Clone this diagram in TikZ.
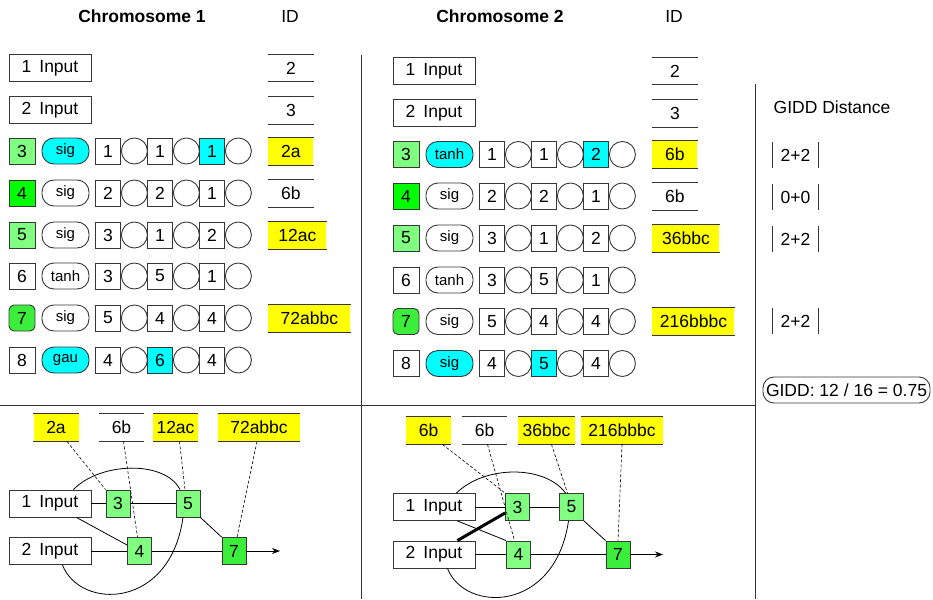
\documentclass[tikz,border=0pt]{standalone}
\usepackage{fontspec}
\setmainfont{Liberation Sans}
\usetikzlibrary{positioning,arrows.meta}
\definecolor{lgreen}{RGB}{128,255,128}
\definecolor{bgreen}{RGB}{0,255,0}
\definecolor{mgreen}{RGB}{60,238,60}
\definecolor{hlcyan}{RGB}{0,255,255}
\definecolor{idyellow}{RGB}{255,255,0}
\definecolor{edgegray}{RGB}{55,55,55}

\tikzset{
  every node/.append style={line width=0.9pt},
  numbox/.style={draw=edgegray, minimum width=26pt, minimum height=26pt, inner sep=0pt},
  actbox/.style={draw=edgegray, rounded corners=12pt, minimum width=47pt, minimum height=26pt,
    inner sep=0pt, font=\fontsize{15}{18}\selectfont},
  wbox/.style={draw=edgegray, minimum width=25pt, minimum height=26pt, inner sep=0pt},
  gate/.style={draw=edgegray, circle, minimum size=26pt, inner sep=0pt},
  hl/.style={fill=hlcyan},
  nohl/.style={},
  inbox/.style={draw=edgegray, minimum width=82pt, minimum height=27pt, inner sep=0pt},
  gnode/.style={draw=edgegray, fill=lgreen, minimum width=24pt, minimum height=27pt, inner sep=0pt},
  idline/.style={draw=edgegray, line width=0.9pt},
  idbox/.style={minimum width=45pt, minimum height=27pt, inner sep=0pt,
    append after command={(\tikzlastnode.north west) edge[idline] (\tikzlastnode.north east)
      (\tikzlastnode.south west) edge[idline] (\tikzlastnode.south east)}},
  barline/.style={draw=edgegray, line width=0.9pt},
  absval/.style={minimum width=45pt, minimum height=25pt, inner sep=0pt,
    append after command={(\tikzlastnode.north west) edge[barline] (\tikzlastnode.south west)
      (\tikzlastnode.north east) edge[barline] (\tikzlastnode.south east)}},
  link/.style={draw=black, line width=0.8pt},
  dlink/.style={draw=black, densely dashed, line width=0.6pt},
  sep/.style={draw=black!80, line width=0.9pt},
}

% one gene row: prefix, x offset, y, number, number style, activation, activation style, inputs
\newcommand{\gene}[8]{%
  \node[numbox,#5] (#1n) at (#2+22,#3) {#4};
  \node[actbox,#7] (#1a) at (#2+65.5,#3) {#6};
  \foreach \w/\s [count=\k] in {#8} {
    \node[wbox,\s] (#1w\k) at (#2+56+52*\k,#3) {\w};
    \node[gate,right=0pt of #1w\k] (#1c\k) {};
  }%
}

\begin{document}
\begin{tikzpicture}[x=1pt, y=-1pt, >={Stealth[length=8pt,width=6pt]}, font=\fontsize{17.5}{20}\selectfont]
  \useasboundingbox (0,0) rectangle (933,599);

  % separators
  \draw[sep] (361,55) -- (361,599);
  \draw[sep] (0,405) -- (755,405);
  \draw[sep] (755,84) -- (755,599);

  % headers
  \node[font=\fontsize{17.5}{20}\selectfont\bfseries] (title1) at (142,16) {Chromosome 1};
  \node (idhead1) at (290,16) {ID};
  \node[font=\fontsize{17.5}{20}\selectfont\bfseries] (title2) at (500,16) {Chromosome 2};
  \node (idhead2) at (674,16) {ID};

  % chromosome 1
  \node[inbox] (r1in1) at (50,68) {1\hspace{8pt}Input};
  \node[inbox] (r1in2) at (50,110) {2\hspace{8pt}Input};
  \gene{r1g3}{0}{151}{3}{fill=lgreen}{sig}{hl}{1/nohl,1/nohl,1/hl}
  \gene{r1g4}{0}{193}{4}{fill=bgreen}{sig}{}{2/nohl,2/nohl,1/nohl}
  \gene{r1g5}{0}{235}{5}{fill=lgreen}{sig}{}{3/nohl,1/nohl,2/nohl}
  \gene{r1g6}{0}{276}{6}{}{tanh}{}{3/nohl,5/nohl,1/nohl}
  \gene{r1g7}{0}{318}{7}{fill=mgreen,rounded corners=5pt}{sig}{}{5/nohl,4/nohl,4/nohl}
  \gene{r1g8}{0}{360}{8}{}{gau}{hl}{4/nohl,6/hl,4/nohl}

  \node[idbox,anchor=west] (r1id1) at (268,68) {2};
  \node[idbox,anchor=west] (r1id2) at (268,110) {3};
  \node[idbox,anchor=west,fill=idyellow] (r1id3) at (268,151) {2a};
  \node[idbox,anchor=west] (r1id4) at (268,193) {6b};
  \node[idbox,anchor=west,fill=idyellow,minimum width=58pt] (r1id5) at (268,235) {12ac};
  \node[idbox,anchor=west,fill=idyellow,minimum width=82pt] (r1id7) at (268,318) {72abbc};

  % chromosome 2
  \node[inbox] (r2in1) at (434,71) {1\hspace{8pt}Input};
  \node[inbox] (r2in2) at (434,113) {2\hspace{8pt}Input};
  \gene{r2g3}{384}{154.5}{3}{fill=lgreen}{tanh}{hl}{1/nohl,1/nohl,2/hl}
  \gene{r2g4}{384}{196}{4}{fill=bgreen}{sig}{}{2/nohl,2/nohl,1/nohl}
  \gene{r2g5}{384}{238}{5}{fill=lgreen}{sig}{}{3/nohl,1/nohl,2/nohl}
  \gene{r2g6}{384}{280}{6}{}{tanh}{}{3/nohl,5/nohl,1/nohl}
  \gene{r2g7}{384}{321.5}{7}{fill=mgreen,rounded corners=5pt}{sig}{}{5/nohl,4/nohl,4/nohl}
  \gene{r2g8}{384}{363.5}{8}{}{sig}{hl}{4/nohl,5/hl,4/nohl}

  \node[idbox,anchor=west] (r2id1) at (652,71) {2};
  \node[idbox,anchor=west] (r2id2) at (652,113) {3};
  \node[idbox,anchor=west,fill=idyellow] (r2id3) at (652,154.5) {6b};
  \node[idbox,anchor=west] (r2id4) at (652,196) {6b};
  \node[idbox,anchor=west,fill=idyellow,minimum width=67pt] (r2id5) at (652,238) {36bbc};
  \node[idbox,anchor=west,fill=idyellow,minimum width=82pt] (r2id7) at (652,321.5) {216bbbc};

  % distance column
  \node (gidd) at (832,107) {GIDD Distance};
  \node[absval] (d3) at (795.5,155) {2+2};
  \node[absval] (d4) at (795.5,197) {0+0};
  \node[absval] (d5) at (795.5,239) {2+2};
  \node[absval] (d7) at (795.5,321) {2+2};
  \node[draw=edgegray, rounded corners=11pt, minimum height=26pt, inner xsep=3pt, inner ysep=1pt] (total) at (846.5,390)
    {GIDD: 12 / 16 = 0.75};

  % network 1
  \node[idbox,fill=idyellow] (n1l3) at (56,427.5) {2a};
  \node[idbox] (n1l4) at (121.5,427.5) {6b};
  \node[idbox,fill=idyellow] (n1l5) at (175.5,427.5) {12ac};
  \node[idbox,fill=idyellow,minimum width=82pt] (n1l7) at (259,427.5) {72abbc};
  \node[inbox] (n1in1) at (50,503.5) {1\hspace{8pt}Input};
  \node[inbox] (n1in2) at (50,551) {2\hspace{8pt}Input};
  \node[gnode] (n1g3) at (118,503.5) {3};
  \node[gnode] (n1g5) at (188,503.5) {5};
  \node[gnode] (n1g4) at (139.5,551) {4};
  \node[gnode,fill=mgreen] (n1g7) at (234,551) {7};
  \coordinate (n1out) at (280,551);
  \draw[link] (n1in1) -- (n1g3);
  \draw[link] (n1g3) -- (n1g5);
  \draw[link] ([xshift=-15pt]n1in1.south east) -- ([yshift=6pt]n1g4.west);
  \draw[link] (n1in2) -- (n1g4);
  \draw[link] (n1g4) -- (n1g7);
  \draw[link] (n1g5.south east) -- (n1g7.north west);
  \draw[link,->] (n1g7) -- (n1out);
  \draw[link] ([xshift=-18pt]n1in1.north east) .. controls (100,462) and (165,460) .. ([xshift=-8pt]n1g5.north);
  \draw[link] ([xshift=-29pt]n1in2.south east) .. controls (80,610) and (170,610) .. ([xshift=-5pt]n1g5.south);
  \draw[dlink] ([xshift=11pt]n1l3.south) -- (n1g3.north west);
  \draw[dlink] ([xshift=2pt]n1l4.south) -- ([xshift=-2pt]n1g4.north);
  \draw[dlink] ([xshift=4pt]n1l5.south) -- ([xshift=-3pt]n1g5.north);
  \draw[dlink] ([xshift=-2pt]n1l7.south) -- ([xshift=3pt]n1g7.north);

  % network 2
  \node[idbox,fill=idyellow] (n2l3) at (428.5,430.5) {6b};
  \node[idbox] (n2l4) at (484.5,430.5) {6b};
  \node[idbox,fill=idyellow,minimum width=57pt] (n2l5) at (546.5,430.5) {36bbc};
  \node[idbox,fill=idyellow,minimum width=82pt] (n2l7) at (622,430.5) {216bbbc};
  \node[inbox] (n2in1) at (434,507) {1\hspace{8pt}Input};
  \node[inbox] (n2in2) at (434,554.5) {2\hspace{8pt}Input};
  \node[gnode] (n2g3) at (517.5,507) {3};
  \node[gnode] (n2g5) at (571.5,507) {5};
  \node[gnode] (n2g4) at (518.5,554.5) {4};
  \node[gnode,fill=mgreen] (n2g7) at (618,554.5) {7};
  \coordinate (n2out) at (663,554.5);
  \draw[link] (n2in1) -- (n2g3);
  \draw[link] (n2g3) -- (n2g5);
  \draw[link] ([xshift=-18pt]n2in1.south east) -- (n2g4.north west);
  \draw[link] (n2in2) -- (n2g4);
  \draw[link] (n2g4) -- (n2g7);
  \draw[link] (n2g5.south east) -- (n2g7.north west);
  \draw[link,->] (n2g7) -- (n2out);
  \draw[link,line width=3pt] ([xshift=-18pt]n2in2.north east) -- ([yshift=-6pt]n2g3.west);
  \draw[link] ([xshift=-19pt]n2in1.north east) .. controls (485,465) and (545,465) .. ([xshift=-6pt]n2g5.north);
  \draw[link] ([xshift=-28pt]n2in2.south east) .. controls (465,613) and (555,613) .. ([xshift=-3pt]n2g5.south);
  \draw[dlink] ([xshift=14pt]n2l3.south) -- (n2g3.north west);
  \draw[dlink] ([xshift=3pt]n2l4.south) -- ([xshift=-4pt]n2g4.north);
  \draw[dlink] ([xshift=5pt]n2l5.south) -- ([xshift=-4pt]n2g5.north);
  \draw[dlink] (n2l7.south) -- (n2g7.north);
\end{tikzpicture}
\end{document}
